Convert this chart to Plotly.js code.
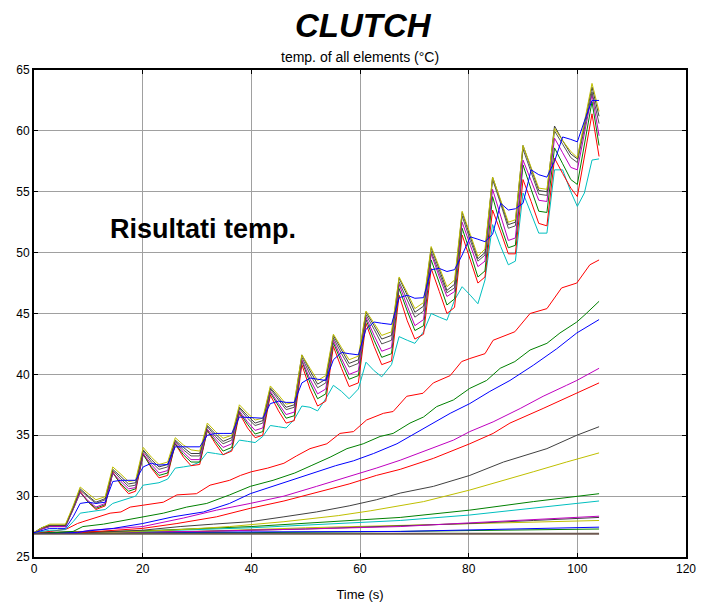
<!DOCTYPE html>
<html>
<head>
<meta charset="utf-8">
<script src="https://cdn.plot.ly/plotly-3.0.1.min.js"></script>
<style>html,body{margin:0;padding:0;background:#fff;}#chart{width:704px;height:603px;}</style>
</head>
<body>
<div id="chart"></div>
<script>
// ---- cluster of sawtooth series (shared time grid) ----
const tCluster = [
  0, 1.4, 2.9, 4.3, 5.8, 7.2,
  8.5, 10.0, 11.4, 13.1,
  14.5, 16.0, 17.4, 18.7,
  20.1, 21.6, 23.0, 24.6,
  26.0, 27.5, 28.9, 30.5,
  31.9, 33.4, 34.8, 36.4,
  37.8, 39.3, 40.7, 42.1,
  43.5, 45.0, 46.4, 47.9,
  49.3, 50.8, 52.2, 53.7,
  55.1, 56.6, 58.0, 59.7,
  61.1, 62.6, 64.0, 65.8,
  67.2, 68.7, 70.1, 71.7,
  73.1, 74.6, 76.0, 77.4,
  78.8, 80.3, 81.7, 83.0,
  84.4, 85.9, 87.3, 88.6,
  90.0, 91.5, 92.9, 94.4,
  95.8, 97.3, 98.8, 100.0, 101.3,
  102.7, 104.0
];
const yellowHi = [
  27.0, 27.4, 27.7, 27.7, 27.7, 29.2,
  30.75, 30.2, 29.7, 29.95,
  32.4, 31.8, 31.2, 31.3,
  34.0, 33.2, 32.6, 32.8,
  34.8, 34.2, 33.8, 33.7,
  36.0, 35.3, 34.75, 35.0,
  37.5, 36.8, 36.25, 36.4,
  39.05, 38.3, 37.55, 37.7,
  41.6, 40.5, 39.5, 39.9,
  43.3, 42.2, 41.2, 41.5,
  45.2, 44.2, 43.2, 43.5,
  48.0, 46.7, 45.4, 45.9,
  50.5, 48.8, 47.2, 47.75,
  53.4, 51.5, 49.7, 50.3,
  56.2, 54.3, 52.5, 52.7,
  58.8, 57.0, 55.3, 55.2,
  60.2, 59.2, 58.3, 57.8, 60.8,
  63.9, 61.6
];
const blackHi = [
  27.0, 27.4, 27.6, 27.6, 27.6, 29.1,
  30.6, 30.0, 29.5, 29.8,
  32.2, 31.6, 31.0, 31.1,
  33.8, 33.0, 32.4, 32.6,
  34.6, 34.0, 33.5, 33.5,
  35.8, 35.1, 34.5, 34.8,
  37.3, 36.6, 36.0, 36.2,
  38.9, 38.1, 37.3, 37.5,
  41.6, 40.3, 39.2, 39.6,
  43.2, 42.0, 40.9, 41.2,
  45.1, 44.0, 42.9, 43.2,
  47.9, 46.5, 45.1, 45.6,
  50.4, 48.6, 46.9, 47.4,
  53.3, 51.3, 49.5, 50.0,
  56.2, 54.2, 52.3, 52.5,
  58.8, 56.9, 55.1, 55.0,
  60.4, 59.2, 58.1, 57.7, 60.6,
  63.6, 61.2
];
const grayHi = [
  27.0, 27.4, 27.6, 27.6, 27.6, 29.0,
  30.5, 29.9, 29.4, 29.7,
  32.1, 31.4, 30.8, 30.9,
  33.7, 32.8, 32.2, 32.4,
  34.5, 33.8, 33.3, 33.3,
  35.7, 34.9, 34.3, 34.6,
  37.2, 36.4, 35.8, 36.0,
  38.8, 37.9, 37.1, 37.3,
  41.4, 40.0, 38.9, 39.3,
  43.0, 41.7, 40.6, 40.9,
  44.9, 43.7, 42.5, 42.8,
  47.6, 46.1, 44.7, 45.2,
  50.1, 48.3, 46.7, 47.1,
  53.0, 51.0, 49.3, 49.8,
  56.0, 54.0, 52.0, 52.2,
  58.5, 56.6, 54.8, 54.7,
  60.0, 58.9, 57.8, 57.4, 60.2,
  63.2, 60.6
];
const magentaHi = [
  27.0, 27.3, 27.5, 27.5, 27.5, 28.9,
  30.3, 29.6, 29.1, 29.4,
  31.9, 31.2, 30.6, 30.7,
  33.5, 32.6, 31.9, 32.1,
  34.4, 33.6, 33.0, 33.0,
  35.5, 34.7, 34.0, 34.3,
  37.0, 36.1, 35.4, 35.6,
  38.6, 37.6, 36.7, 36.9,
  41.2, 39.6, 38.4, 38.8,
  42.8, 41.3, 40.0, 40.3,
  44.7, 43.2, 41.9, 42.2,
  47.4, 45.6, 44.0, 44.5,
  49.9, 48.0, 46.4, 46.8,
  52.5, 50.6, 48.85, 49.3,
  55.2, 53.0, 51.0, 51.2,
  57.6, 55.9, 54.3, 54.2,
  59.4, 58.2, 57.0, 56.8, 59.8,
  63.0, 59.6
];
const greenHi = [
  27.0, 27.3, 27.5, 27.5, 27.5, 28.9,
  30.3, 29.5, 29.0, 29.3,
  31.9, 31.0, 30.4, 30.6,
  33.4, 32.4, 31.7, 31.9,
  34.3, 33.4, 32.8, 32.8,
  35.4, 34.5, 33.7, 34.0,
  36.9, 35.9, 35.1, 35.3,
  38.5, 37.4, 36.4, 36.6,
  41.1, 39.3, 38.0, 38.4,
  42.6, 41.0, 39.6, 39.9,
  44.5, 42.8, 41.4, 41.7,
  47.05, 45.2, 43.6, 44.0,
  49.4, 47.5, 45.7, 46.2,
  52.0, 50.0, 48.0, 48.5,
  54.6, 52.2, 50.4, 50.6,
  57.2, 55.2, 53.4, 53.3,
  58.6, 57.3, 56.0, 55.6, 58.9,
  62.4, 58.8
];
const redHi = [
  27.0, 27.3, 27.6, 27.6, 27.6, 29.0,
  30.4, 29.5, 28.9, 29.2,
  32.0, 30.9, 30.2, 30.4,
  33.5, 32.3, 31.5, 31.7,
  34.3, 33.2, 32.5, 32.6,
  35.4, 34.3, 33.4, 33.7,
  36.8, 35.6, 34.8, 35.0,
  38.3, 37.0, 36.0, 36.2,
  40.8, 38.8, 37.4, 37.8,
  42.3, 40.5, 39.0, 39.3,
  44.2, 42.3, 40.8, 41.1,
  46.5, 44.4, 42.9, 43.3,
  48.7, 46.8, 45.0, 45.5,
  51.45, 49.4, 47.5, 48.0,
  53.5, 51.7, 49.9, 49.9,
  56.0, 54.2, 52.4, 52.2,
  57.75, 56.5, 55.3, 54.6, 58.0,
  61.4, 57.9
];
const cyanHi = [
  27.0, 27.1, 27.2, 27.2, 27.25, 27.9,
  28.6, 28.7, 28.8, 28.9,
  29.4, 29.6, 29.8, 30.0,
  30.9, 31.0, 31.1, 31.4,
  32.3, 32.4, 32.5, 32.8,
  33.6, 33.5, 33.4, 33.8,
  34.6, 34.5, 34.4, 34.9,
  35.8, 35.7, 35.6, 36.3,
  37.4, 37.3, 37.0, 38.0,
  39.1, 38.6, 38.0, 38.8,
  41.0, 40.3, 39.8, 40.8,
  43.1, 42.8, 42.55, 43.5,
  45.0, 44.7, 44.45, 46.1,
  47.2, 46.5, 45.8, 47.75,
  52.3, 50.5, 49.0, 49.3,
  54.9, 53.2, 51.6, 51.6,
  56.8, 56.8, 55.0, 53.8, 54.9,
  57.6, 57.7
];
const blueHi = [
  27.0, 27.2, 27.35, 27.35, 27.35, 28.3,
  29.4, 29.5, 29.4, 29.5,
  31.2, 31.3, 31.3, 31.3,
  32.4, 32.7, 32.55, 32.6,
  34.05, 34.05, 34.0, 34.05,
  35.0, 35.15, 35.15, 35.15,
  36.5, 36.45, 36.4, 36.4,
  37.6, 37.8, 37.7, 37.7,
  39.3, 39.7, 39.6, 39.5,
  41.2, 41.8, 41.7, 41.6,
  43.7, 44.3, 44.2, 44.1,
  46.3, 46.5, 46.25, 46.3,
  48.6, 48.7, 48.45, 48.6,
  49.8, 51.3, 51.1, 50.9,
  51.5, 54.05, 53.5, 53.6,
  54.05, 56.8, 56.4, 56.2,
  57.5, 59.5, 59.3, 59.1, 60.8,
  62.5, 62.5
];

// ---- smooth series (own time grids) ----
const tRedUp = [0, 3, 6, 8, 9, 12, 14, 16, 17.7, 20, 23.8, 26.3, 29.9, 32.4, 36, 38, 40, 43, 46, 48.3, 50.8, 53.9, 56.3, 58.8, 61.2, 64.3, 66.1, 68.6, 71.6, 73.5, 76.6, 78.7, 80.2, 83, 84.5, 88.5, 91.3, 94.4, 97.1, 99.9, 102.3, 104];
const redUp  = [27.0, 27.1, 27.3, 27.75, 27.9, 28.3, 28.6, 28.7, 29.1, 29.25, 29.5, 30.1, 30.2, 30.9, 31.3, 31.7, 32.0, 32.3, 32.7, 33.3, 33.9, 34.3, 35.15, 35.3, 36.25, 36.8, 36.95, 38.2, 38.45, 39.3, 39.9, 41.05, 41.3, 41.7, 42.8, 43.5, 45.0, 45.4, 47.1, 47.5, 49.0, 49.4];
const tGreenUp = [0, 4, 7.2, 9, 12.8, 16.4, 20, 23.8, 28.1, 31.8, 36, 39.8, 44, 48, 51, 54.5, 57.6, 60.6, 63.7, 66.1, 69.2, 71.7, 74.1, 77.2, 80.2, 83.3, 85.8, 88.5, 91.3, 94.4, 96.8, 99.9, 101.4, 104];
const greenUp  = [27.0, 27.0, 27.1, 27.5, 27.7, 28.0, 28.3, 28.6, 29.1, 29.4, 30.1, 30.8, 31.3, 31.9, 32.5, 33.2, 33.9, 34.3, 34.9, 35.15, 36.0, 36.5, 37.35, 37.9, 38.85, 39.5, 40.5, 41.05, 42.0, 42.55, 43.4, 44.3, 44.9, 46.0];
const tBlueUp = [0, 8, 9, 14.6, 20, 25.6, 31.2, 36, 39.8, 44, 48, 52, 55.5, 58.8, 62.5, 66.8, 70.4, 73.5, 76.6, 80.2, 83.9, 87.6, 91.9, 96.2, 99.9, 104];
const blueUp  = [27.0, 27.0, 27.1, 27.35, 27.75, 28.3, 28.7, 29.4, 30.2, 30.8, 31.4, 32.0, 32.5, 32.9, 33.5, 34.3, 35.2, 36.0, 36.8, 37.6, 38.6, 39.5, 40.75, 42.1, 43.4, 44.5];
const tMagUp = [0, 8, 10.3, 20, 27.5, 33.6, 39.8, 46, 52, 58, 63, 67.4, 71.7, 77.2, 80.2, 84.5, 89.5, 93.7, 98, 99.9, 104];
const magUp  = [27.0, 27.0, 27.2, 27.5, 28.2, 28.85, 29.4, 30.0, 30.8, 31.6, 32.3, 32.95, 33.65, 34.6, 35.3, 36.1, 37.2, 38.2, 39.1, 39.5, 40.5];
const tRedLow = [0, 10, 20, 26.3, 33.6, 39.8, 46, 52, 58, 63, 67.4, 73.5, 80.2, 84.5, 87.6, 93.7, 99.9, 104];
const redLow  = [27.0, 27.05, 27.35, 27.75, 28.3, 29.0, 29.6, 30.3, 31.0, 31.7, 32.2, 33.1, 34.3, 35.15, 36.0, 37.2, 38.45, 39.3];
const tBlackLow = [0, 10, 20, 26.9, 33, 39.8, 46, 52, 58, 63, 67.4, 73.5, 80.2, 86.4, 94.4, 99.9, 104];
const blackLow  = [27.0, 27.0, 27.2, 27.5, 27.7, 27.9, 28.3, 28.7, 29.2, 29.7, 30.25, 30.8, 31.7, 32.8, 33.9, 35.0, 35.7];
const tYelLow = [0, 15, 25, 36, 46, 56, 62, 67.4, 71.7, 80.2, 85.8, 91.9, 98, 104];
const yelLow  = [27.0, 27.05, 27.2, 27.5, 27.9, 28.4, 28.8, 29.2, 29.55, 30.5, 31.2, 32.0, 32.8, 33.55];
const tFlat8 = [0, 20, 40, 55, 67.4, 80.2, 91.9, 104];
const greenLow = [27.0, 27.15, 27.5, 27.9, 28.25, 28.85, 29.55, 30.2];
const cyanLow  = [27.0, 27.1, 27.4, 27.75, 28.0, 28.45, 29.0, 29.6];
const tFlat7 = [0, 30, 50, 67.4, 80, 91.9, 104];
const magLow   = [27.0, 27.1, 27.3, 27.5, 27.8, 28.1, 28.35];
const blackLow2 = [27.0, 27.1, 27.3, 27.55, 27.75, 28.0, 28.25];
const yelLow2  = [27.0, 27.1, 27.4, 27.6, 27.7, 27.85, 28.0];
const tFlat4 = [0, 40, 67.4, 104];
const blueLow2 = [27.0, 27.05, 27.1, 27.45];
const greenLow2 = [27.0, 27.0, 27.1, 27.3];
const tBase = [0, 104];
const baseLine = [26.9, 26.9];

const xTicks = [0, 20, 40, 60, 80, 100, 120];
const yTicks = [25, 30, 35, 40, 45, 50, 55, 60, 65];

const C = {b:'#0000ff', g:'#008000', r:'#ff0000', c:'#00bfbf', m:'#bf00bf', y:'#bfbf00', k:'#404040'};

function tr(x, y, color, w) {
  return {x: x, y: y, type: 'scatter', mode: 'lines', line: {color: color, width: w || 1}, hoverinfo: 'skip', showlegend: false};
}

const data = [
  tr(tBase, baseLine, '#6e5a50', 2),
  tr(tFlat4, greenLow2, C.g),
  tr(tFlat4, blueLow2, C.b),
  tr(tFlat7, yelLow2, C.y),
  tr(tFlat7, blackLow2, C.k),
  tr(tFlat7, magLow, C.m),
  tr(tFlat8, cyanLow, C.c),
  tr(tFlat8, greenLow, C.g),
  tr(tYelLow, yelLow, C.y),
  tr(tBlackLow, blackLow, C.k),
  tr(tRedLow, redLow, C.r),
  tr(tMagUp, magUp, C.m),
  tr(tBlueUp, blueUp, C.b),
  tr(tGreenUp, greenUp, C.g),
  tr(tRedUp, redUp, C.r),
  tr(tCluster, cyanHi, C.c),
  tr(tCluster, redHi, C.r),
  tr(tCluster, greenHi, C.g),
  tr(tCluster, magentaHi, C.m),
  tr(tCluster, grayHi, '#555555'),
  tr(tCluster, blackHi, C.k),
  tr(tCluster, yellowHi, C.y),
  tr(tCluster, blueHi, C.b)
];

const font = 'Liberation Sans, Arial, Helvetica, sans-serif';
const axisCommon = {
  showline: true, linecolor: '#000', linewidth: 2, mirror: 'ticks',
  ticks: 'inside', ticklen: 4, tickcolor: '#000', tickwidth: 1,
  showgrid: true, gridcolor: '#a0a0a0', gridwidth: 1, zeroline: false,
  tickfont: {family: font, size: 12, color: '#000'}
};

const layout = {
  width: 704, height: 603,
  margin: {l: 34, r: 18, t: 70, b: 46},
  paper_bgcolor: '#fff', plot_bgcolor: '#fff',
  font: {family: font, color: '#000'},
  xaxis: Object.assign({}, axisCommon, {
    range: [0, 120], tickvals: xTicks, ticktext: xTicks.map(String),
    title: {text: 'Time (s)', font: {family: font, size: 13, color: '#000'}, standoff: 14}
  }),
  yaxis: Object.assign({}, axisCommon, {
    range: [25, 65], tickvals: yTicks, ticktext: yTicks.map(String)
  }),
  annotations: [
    {xref: 'paper', yref: 'paper', x: 0.505, y: 1.092, xanchor: 'center', yanchor: 'middle',
     text: '<b><i>CLUTCH</i></b>', showarrow: false, font: {family: font, size: 33, color: '#000'}},
    {xref: 'paper', yref: 'paper', x: 0.5, y: 1.027, xanchor: 'center', yanchor: 'middle',
     text: 'temp. of all elements (°C)', showarrow: false, font: {family: font, size: 14, color: '#000'}},
    {xref: 'x', yref: 'y', x: 31.1, y: 51.9, xanchor: 'center', yanchor: 'middle',
     text: '<b>Risultati temp.</b>', showarrow: false, font: {family: font, size: 27, color: '#000'}}
  ]
};

Plotly.newPlot('chart', data, layout, {staticPlot: true, displayModeBar: false});
</script>
</body>
</html>
